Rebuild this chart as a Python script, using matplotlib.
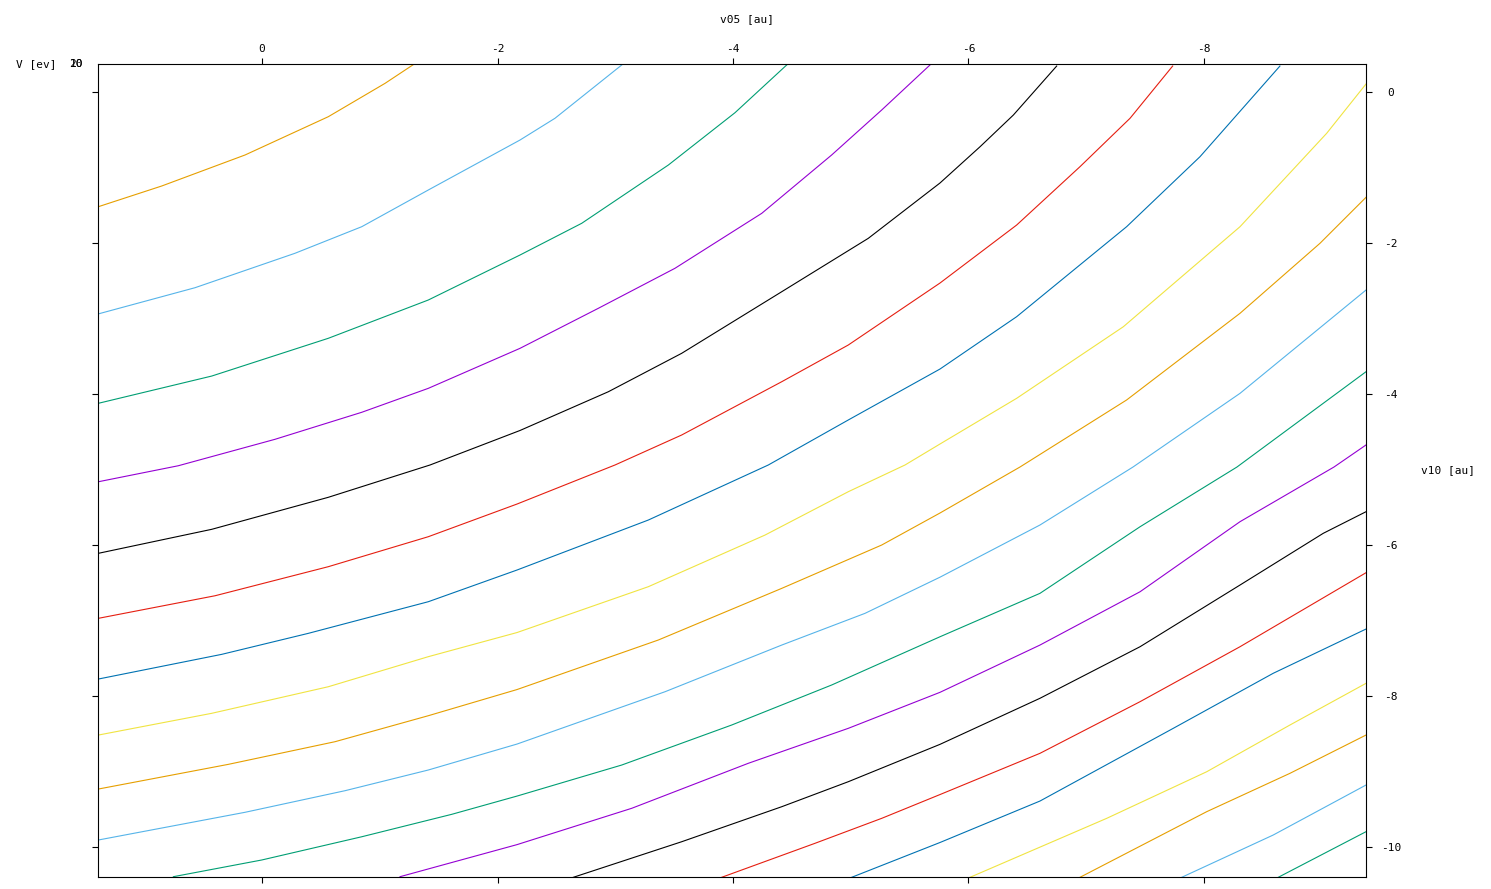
import matplotlib
matplotlib.use("Agg")
import matplotlib.pyplot as plt

plt.rcParams["font.family"] = "DejaVu Sans Mono"
plt.rcParams["axes.unicode_minus"] = False

# contour lines of V [ev], as (v05, v10) points in au
v05_pts = [
    [1.390, 0.852, 0.144, -0.563, -1.045, -1.293],
    [1.393, 0.569, -0.280, -0.847, -1.412, -2.191, -2.488, -3.055],
    [1.390, 0.427, -0.563, -1.412, -2.191, -2.715, -3.451, -4.017, -4.456],
    [1.390, 0.711, -0.110, -0.847, -1.412, -2.191, -2.856, -3.507, -4.244, -4.838, -5.263, -5.673],
    [1.390, 0.427, -0.563, -1.427, -2.191, -2.941, -3.564, -4.414, -5.149, -5.758, -6.098, -6.381, -6.749],
    [1.390, 0.399, -0.563, -1.412, -2.166, -2.998, -3.564, -4.414, -4.979, -5.758, -6.409, -6.947, -7.372, -7.734],
    [1.390, 0.342, -0.393, -1.412, -2.166, -3.281, -4.300, -4.979, -5.758, -6.409, -7.343, -7.966, -8.645],
    [1.390, 0.427, -0.563, -1.412, -2.166, -3.281, -4.272, -4.979, -5.461, -5.758, -6.409, -7.315, -8.306, -9.042, -9.376],
    [1.390, 0.286, -0.620, -1.412, -2.166, -3.366, -4.414, -5.263, -5.758, -6.437, -7.343, -8.306, -8.985, -9.376],
    [1.390, 0.144, -0.705, -1.412, -2.166, -3.423, -4.414, -5.121, -5.758, -6.607, -7.397, -8.306, -9.376],
    [0.753, 0.003, -0.847, -1.611, -2.166, -3.055, -3.989, -4.838, -5.758, -6.607, -7.457, -8.280, -9.376],
    [-1.172, -2.166, -3.140, -4.130, -4.979, -5.758, -6.607, -7.457, -8.306, -9.104, -9.376],
    [-2.644, -3.564, -4.414, -4.979, -5.758, -6.607, -7.457, -8.306, -9.013, -9.376],
    [-3.904, -4.696, -5.263, -5.758, -6.607, -7.457, -8.306, -9.376],
    [-5.008, -5.758, -6.607, -7.739, -8.588, -9.376],
    [-6.013, -7.174, -8.023, -8.730, -9.376],
    [-6.947, -8.023, -8.730, -9.376],
    [-7.811, -8.588, -9.376],
    [-8.631, -9.376],
]
v10_pts = [
    [-1.519, -1.245, -0.834, -0.327, 0.115, 0.371],
    [-2.940, -2.592, -2.136, -1.784, -1.298, -0.636, -0.348, 0.358],
    [-4.123, -3.762, -3.262, -2.755, -2.159, -1.739, -0.967, -0.274, 0.358],
    [-5.162, -4.950, -4.600, -4.242, -3.925, -3.395, -2.865, -2.335, -1.607, -0.834, -0.238, 0.358],
    [-6.110, -5.792, -5.368, -4.940, -4.483, -3.970, -3.461, -2.645, -1.938, -1.205, -0.725, -0.305, 0.344],
    [-6.971, -6.672, -6.287, -5.890, -5.457, -4.940, -4.543, -3.837, -3.351, -2.530, -1.762, -0.989, -0.348, 0.344],
    [-7.775, -7.448, -7.170, -6.751, -6.331, -5.669, -4.940, -4.344, -3.669, -2.976, -1.784, -0.857, 0.344],
    [-8.517, -8.229, -7.877, -7.479, -7.159, -6.552, -5.868, -5.294, -4.940, -4.662, -4.057, -3.109, -1.784, -0.547, 0.106],
    [-9.232, -8.905, -8.605, -8.261, -7.914, -7.258, -6.574, -6.000, -5.576, -4.967, -4.079, -2.931, -2.004, -1.395],
    [-9.907, -9.540, -9.254, -8.980, -8.636, -7.943, -7.325, -6.905, -6.426, -5.735, -4.967, -3.991, -2.623],
    [-10.393, -10.172, -9.864, -9.567, -9.325, -8.914, -8.384, -7.854, -7.215, -6.640, -5.758, -4.967, -3.705],
    [-10.393, -9.968, -9.487, -8.891, -8.428, -7.951, -7.325, -6.619, -5.691, -4.967, -4.675],
    [-10.401, -9.930, -9.466, -9.135, -8.640, -8.030, -7.347, -6.530, -5.845, -5.559],
    [-10.401, -9.951, -9.620, -9.305, -8.759, -8.075, -7.347, -6.367],
    [-10.401, -9.940, -9.391, -8.428, -7.699, -7.113],
    [-10.401, -9.620, -9.003, -8.384, -7.832],
    [-10.401, -9.532, -9.024, -8.517],
    [-10.401, -9.841, -9.179],
    [-10.401, -9.797],
]
line_colors = ["#e69f00", "#56b4e9", "#009e73", "#9400d3", "#000000", "#e51e10", "#0072b2", "#f0e442"] * 3

v05_ticks = [0, -2, -4, -6, -8]
v10_ticks = [0, -2, -4, -6, -8, -10]

fig = plt.figure(figsize=(14.91, 8.89), dpi=100)
ax = fig.add_axes([98 / 1491, 12 / 889, 1268 / 1491, 813 / 889])

for xs, ys, c in zip(v05_pts, v10_pts, line_colors):
    ax.plot(xs, ys, color=c, lw=0.8)

ax.set_xlim(1.393, -9.376)
ax.set_ylim(-10.397, 0.371)
ax.set_xticks(v05_ticks)
ax.set_yticks(v10_ticks)

ax.tick_params(axis="x", direction="out", length=4.3, width=0.8, top=True, bottom=True,
               labeltop=True, labelbottom=False, labelsize=8, pad=3)
ax.tick_params(axis="y", direction="out", length=4.3, width=0.8, left=True, right=True,
               labelleft=False, labelright=True, labelsize=8, pad=13.5)
for lab in ax.get_yticklabels():
    lab.set_horizontalalignment("center")
for sp in ax.spines.values():
    sp.set_linewidth(0.8)

# axis titles, placed like the gnuplot map view
fig.text(747 / 1491, 1 - 19 / 889, "v05 [au]", ha="center", va="center", fontsize=8)
fig.text(1448 / 1491, 1 - 470 / 889, "v10 [au]", ha="center", va="center", fontsize=8)
fig.text(16 / 1491, 1 - 64 / 889, "V [ev]", ha="left", va="center", fontsize=8)
fig.text(76 / 1491, 1 - 64 / 889, "20", ha="center", va="center", fontsize=8)
fig.text(76 / 1491, 1 - 64 / 889, "10", ha="center", va="center", fontsize=8)

fig.savefig("out.png", dpi=100)
